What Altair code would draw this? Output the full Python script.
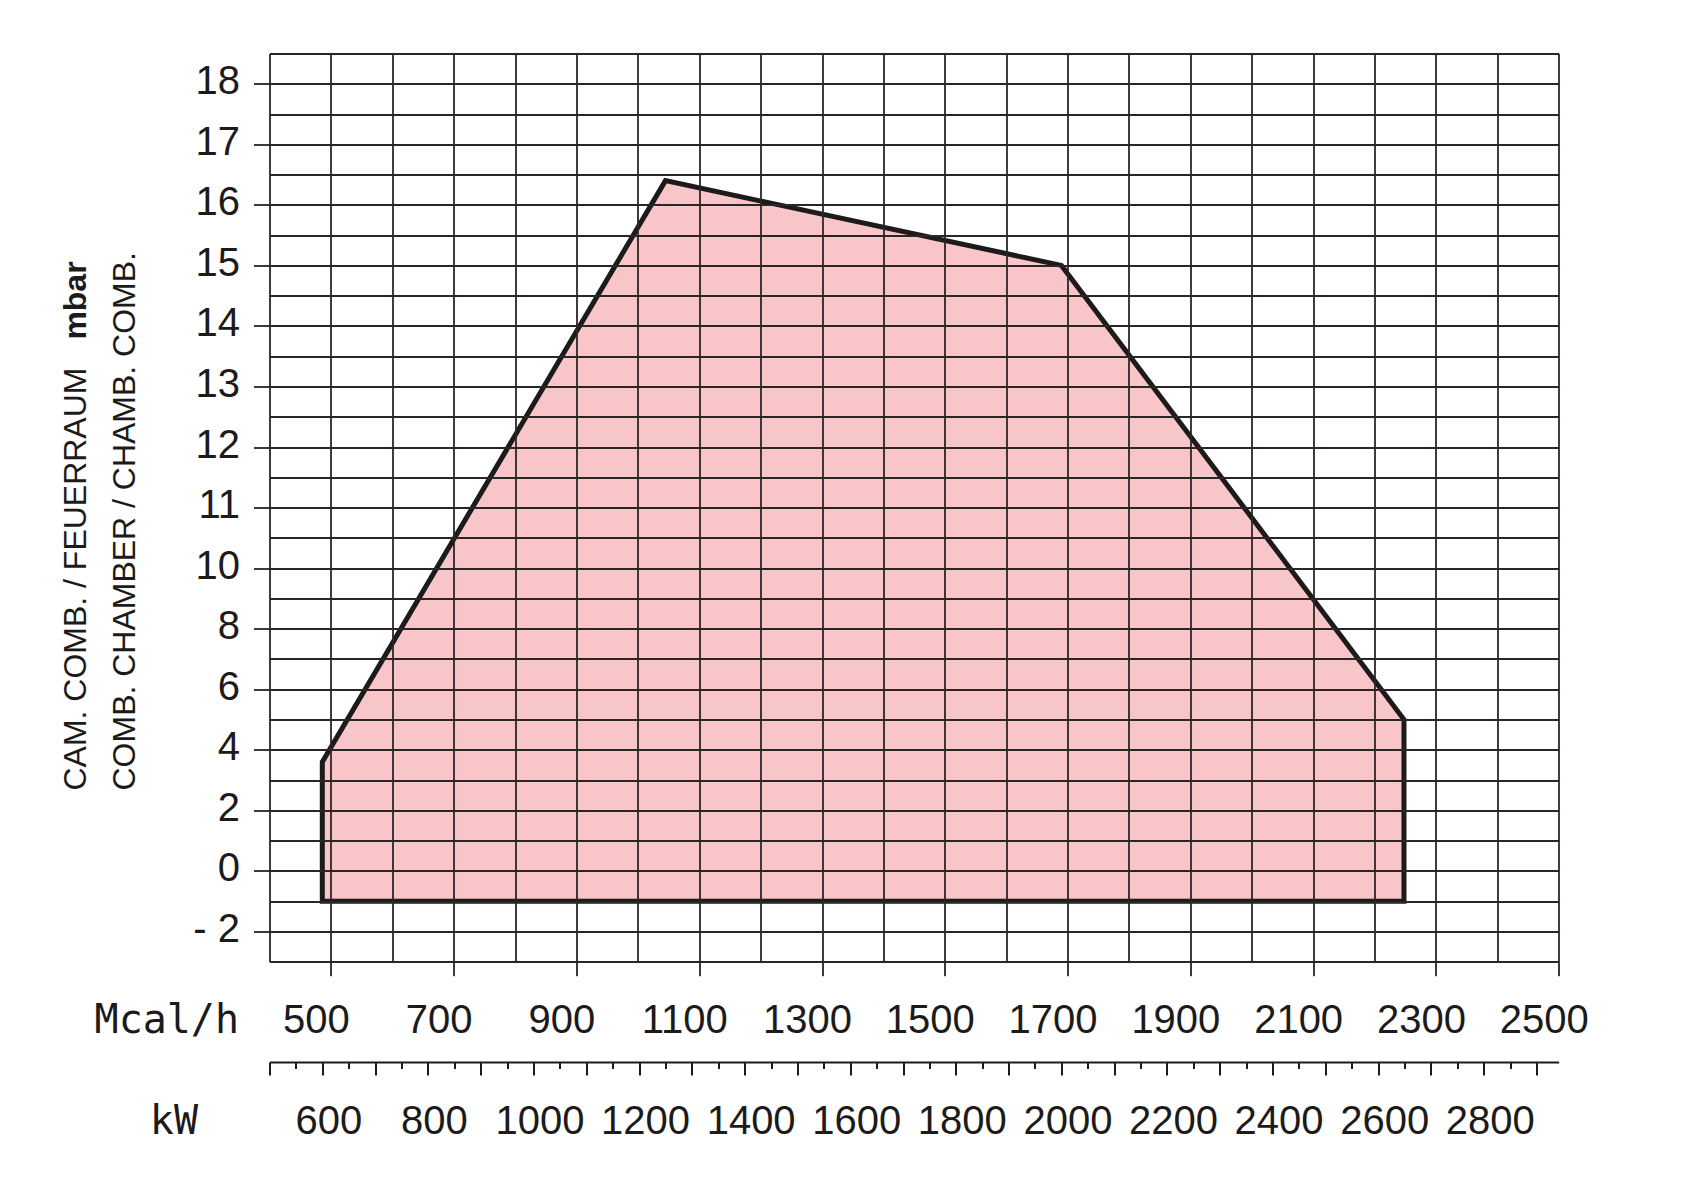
import altair as alt
import pandas as pd

# ---------------- data ----------------
VERT_MCAL = [486, 1045, 1690, 2248]      # Mcal/h of the upper vertices
VERT_MBAR = [3.6, 16.4, 15.0, 5.0]       # mbar of the upper vertices
FLOOR_MBAR = -1.0                        # lower edge of the working field (mbar)

MCAL_DOMAIN = [400, 2500]
MCAL_LABELS = [500, 700, 900, 1100, 1300, 1500, 1700, 1900, 2100, 2300, 2500]
MCAL_GRID = list(range(400, 2501, 100))

# piecewise pressure axis: 2 mbar per step below 10, 1 mbar per step above
MBAR_DOMAIN = [-3, 10, 18.5]
MBAR_LABELS = [-2, 0, 2, 4, 6, 8, 10, 11, 12, 13, 14, 15, 16, 17, 18]
MBAR_GRID = list(range(-3, 10)) + [10 + 0.5 * i for i in range(18)]

KW_DOMAIN = [500, 2942]
KW_MAJOR = list(range(500, 2901, 100))
KW_MINOR = list(range(550, 2901, 100))

# ---------------- geometry / style ----------------
W, H = 1289.2, 908.2
UNIT = H / 15.0
Y_RANGE = [H, (18.5 - 10) * UNIT, 0]

FONT = "Liberation Sans"
MONO = "DejaVu Sans Mono"
INK = "#1c1a1a"
GRIDC = "#2b2626"
PINK = "#f8c6c8"

x_scale = alt.Scale(domain=MCAL_DOMAIN, nice=False, zero=False)
y_scale = alt.Scale(domain=MBAR_DOMAIN, range=Y_RANGE, nice=False, zero=False)

area_df = pd.DataFrame({"mcal": VERT_MCAL, "mbar": VERT_MBAR,
                        "floor": [FLOOR_MBAR] * len(VERT_MCAL)})
path_mcal = [VERT_MCAL[0]] + VERT_MCAL + [VERT_MCAL[-1], VERT_MCAL[0]]
path_mbar = [FLOOR_MBAR] + VERT_MBAR + [FLOOR_MBAR, FLOOR_MBAR]
path_df = pd.DataFrame({"mcal": path_mcal, "mbar": path_mbar,
                        "order": list(range(len(path_mcal)))})
kw_df = pd.DataFrame({"kw": KW_MAJOR})

fill = alt.Chart(area_df).mark_area(color=PINK, opacity=1).encode(
    x=alt.X("mcal:Q", scale=x_scale, axis=alt.Axis(
        orient="bottom", values=MCAL_LABELS, grid=False, domain=False,
        ticks=True, tickSize=14, tickWidth=2, tickColor="#3a3a3a",
        labelFont=FONT, labelFontSize=40, labelColor=INK, labelPadding=25,
        labelOffset=-15, labelFlush=False, labelOverlap=False, labelBound=False,
        format="d",
        title="Mcal/h", titleFont=MONO, titleFontSize=40, titleFontWeight="normal",
        titleColor=INK, titleX=-31, titleY=59, titleAlign="right",
        titleBaseline="middle", titleAngle=0)),
    y=alt.Y("mbar:Q", scale=y_scale, axis=alt.Axis(
        orient="left", values=MBAR_LABELS, grid=False, domain=False,
        tickSize=16, tickWidth=2, tickColor="#3a3a3a",
        labelFont=FONT, labelFontSize=40, labelColor=INK, labelPadding=14,
        labelOffset=-2, labelFlush=False, labelOverlap=False, labelBound=False,
        labelExpr="datum.value < 0 ? '- ' + abs(datum.value) : '' + datum.value",
        title=["CAM. COMB. / FEUERRAUM", "COMB. CHAMBER / CHAMB. COMB."],
        titleFont=FONT, titleFontSize=32, titleFontWeight="normal", titleColor=INK,
        titleAngle=270, titleAlign="left", titleBaseline="middle",
        titleX=-194.5, titleY=736.5, titleLineHeight=50)),
    y2=alt.Y2("floor:Q"),
)

outline = alt.Chart(path_df).mark_line(
    color=INK, strokeWidth=5, strokeJoin="miter", strokeCap="square"
).encode(
    x=alt.X("mcal:Q", scale=x_scale, axis=None),
    y=alt.Y("mbar:Q", scale=y_scale, axis=None),
    order="order:Q",
)

grid = alt.Chart(path_df).mark_point(opacity=0).encode(
    x=alt.X("mcal:Q", scale=x_scale, axis=alt.Axis(
        orient="bottom", values=MCAL_GRID, grid=True, gridColor=GRIDC,
        gridWidth=1.8, gridOpacity=1, labels=False, ticks=False, domain=False,
        title=None, zindex=1)),
    y=alt.Y("mbar:Q", scale=y_scale, axis=alt.Axis(
        orient="left", values=MBAR_GRID, grid=True, gridColor=GRIDC,
        gridWidth=1.8, gridOpacity=1, labels=False, ticks=False, domain=False,
        title=None, zindex=1)),
)

unit_title = alt.Chart(path_df).mark_point(opacity=0).encode(
    y=alt.Y("mbar:Q", scale=y_scale, axis=alt.Axis(
        orient="left", values=MBAR_LABELS, labels=False, ticks=False, domain=False,
        grid=False, title="mbar", titleFont=FONT, titleFontSize=32,
        titleFontWeight="bold", titleColor=INK, titleAngle=270,
        titleAlign="center", titleBaseline="middle",
        titleX=-194.5, titleY=246.5)),
)

kw_scale = alt.Scale(domain=KW_DOMAIN, nice=False, zero=False)

kw_major = alt.Chart(kw_df).mark_point(opacity=0).encode(
    x=alt.X("kw:Q", scale=kw_scale, axis=alt.Axis(
        orient="bottom", offset=100.3, values=KW_MAJOR, grid=False,
        domain=True, domainColor=INK, domainWidth=2,
        tickSize=13, tickWidth=2, tickColor=INK,
        labelExpr="(datum.value % 200 == 0) ? datum.label : ''",
        labelFont=FONT, labelFontSize=40, labelColor=INK, labelPadding=27,
        labelOffset=6, labelFlush=False, labelOverlap=False, labelBound=False,
        format="d",
        title="kW", titleFont=MONO, titleFontSize=40, titleFontWeight="normal",
        titleColor=INK, titleX=-72, titleY=59.6, titleAlign="right",
        titleBaseline="middle", titleAngle=0)),
)

kw_minor = alt.Chart(kw_df).mark_point(opacity=0).encode(
    x=alt.X("kw:Q", scale=kw_scale, axis=alt.Axis(
        orient="bottom", offset=100.3, values=KW_MINOR, grid=False,
        domain=False, tickSize=6.5, tickWidth=2, tickColor=INK,
        labels=False, title=None)),
)

chart = alt.layer(fill, outline, grid, unit_title, kw_major, kw_minor).resolve_scale(
    x="independent", y="independent"
).properties(
    width=W, height=H,
    autosize=alt.AutoSizeParams(type="none"),
    padding={"left": 261.5, "top": 45.5, "right": 100, "bottom": 200},
    background="white",
).configure_view(stroke=None)

chart.save("out.html", embed_options={"renderer": "svg", "actions": False})
